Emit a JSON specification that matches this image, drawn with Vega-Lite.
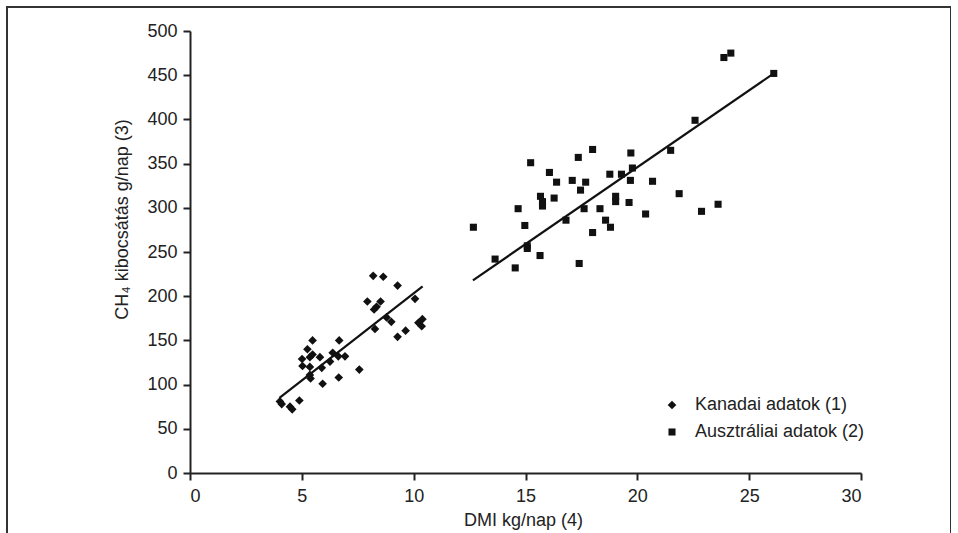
{
  "$schema": "https://vega.github.io/schema/vega-lite/v6.json",
  "autosize": {"type": "none"},
  "padding": {"left": 7, "top": 7, "right": 0, "bottom": 0},
  "width": 944,
  "height": 536,
  "background": "white",
  "config": {
    "view": {"stroke": "#333", "strokeWidth": 2},
    "font": "Liberation Sans",
    "axis": {
      "grid": false,
      "domainColor": "#222",
      "domainWidth": 2,
      "tickColor": "#222",
      "tickWidth": 2,
      "tickSize": 7,
      "labelFont": "Liberation Sans",
      "labelFontSize": 18,
      "labelColor": "#222",
      "titleFont": "Liberation Sans",
      "titleFontSize": 18,
      "titleFontWeight": "normal",
      "titleColor": "#222"
    },
    "legend": {
      "labelFont": "Liberation Sans",
      "labelFontSize": 18,
      "labelColor": "#222",
      "labelLimit": 0
    }
  },
  "datasets": {
    "points": [
      {"dmi": 8.19, "ch4": 223, "group": "Kanadai adatok (1)"},
      {"dmi": 8.64, "ch4": 222, "group": "Kanadai adatok (1)"},
      {"dmi": 9.28, "ch4": 212, "group": "Kanadai adatok (1)"},
      {"dmi": 10.06, "ch4": 197, "group": "Kanadai adatok (1)"},
      {"dmi": 7.93, "ch4": 194, "group": "Kanadai adatok (1)"},
      {"dmi": 8.52, "ch4": 194, "group": "Kanadai adatok (1)"},
      {"dmi": 8.34, "ch4": 188, "group": "Kanadai adatok (1)"},
      {"dmi": 8.23, "ch4": 185, "group": "Kanadai adatok (1)"},
      {"dmi": 8.79, "ch4": 176, "group": "Kanadai adatok (1)"},
      {"dmi": 9.0, "ch4": 171, "group": "Kanadai adatok (1)"},
      {"dmi": 8.27, "ch4": 163, "group": "Kanadai adatok (1)"},
      {"dmi": 10.39, "ch4": 174, "group": "Kanadai adatok (1)"},
      {"dmi": 10.21, "ch4": 170, "group": "Kanadai adatok (1)"},
      {"dmi": 10.36, "ch4": 166, "group": "Kanadai adatok (1)"},
      {"dmi": 9.64, "ch4": 161, "group": "Kanadai adatok (1)"},
      {"dmi": 9.28, "ch4": 154, "group": "Kanadai adatok (1)"},
      {"dmi": 5.48, "ch4": 150, "group": "Kanadai adatok (1)"},
      {"dmi": 6.67, "ch4": 150, "group": "Kanadai adatok (1)"},
      {"dmi": 5.25, "ch4": 140, "group": "Kanadai adatok (1)"},
      {"dmi": 5.01, "ch4": 129, "group": "Kanadai adatok (1)"},
      {"dmi": 5.36, "ch4": 131, "group": "Kanadai adatok (1)"},
      {"dmi": 5.48, "ch4": 134, "group": "Kanadai adatok (1)"},
      {"dmi": 5.81, "ch4": 131, "group": "Kanadai adatok (1)"},
      {"dmi": 5.03, "ch4": 121, "group": "Kanadai adatok (1)"},
      {"dmi": 5.36, "ch4": 120, "group": "Kanadai adatok (1)"},
      {"dmi": 5.89, "ch4": 119, "group": "Kanadai adatok (1)"},
      {"dmi": 6.26, "ch4": 126, "group": "Kanadai adatok (1)"},
      {"dmi": 6.38, "ch4": 136, "group": "Kanadai adatok (1)"},
      {"dmi": 6.63, "ch4": 132, "group": "Kanadai adatok (1)"},
      {"dmi": 6.93, "ch4": 132, "group": "Kanadai adatok (1)"},
      {"dmi": 5.36, "ch4": 111, "group": "Kanadai adatok (1)"},
      {"dmi": 5.39, "ch4": 107, "group": "Kanadai adatok (1)"},
      {"dmi": 7.57, "ch4": 117, "group": "Kanadai adatok (1)"},
      {"dmi": 6.65, "ch4": 108, "group": "Kanadai adatok (1)"},
      {"dmi": 5.93, "ch4": 101, "group": "Kanadai adatok (1)"},
      {"dmi": 4.02, "ch4": 81, "group": "Kanadai adatok (1)"},
      {"dmi": 4.1, "ch4": 78, "group": "Kanadai adatok (1)"},
      {"dmi": 4.89, "ch4": 82, "group": "Kanadai adatok (1)"},
      {"dmi": 4.47, "ch4": 75, "group": "Kanadai adatok (1)"},
      {"dmi": 4.57, "ch4": 72, "group": "Kanadai adatok (1)"},
      {"dmi": 12.67, "ch4": 278, "group": "Ausztráliai adatok (2)"},
      {"dmi": 15.23, "ch4": 351, "group": "Ausztráliai adatok (2)"},
      {"dmi": 16.07, "ch4": 340, "group": "Ausztráliai adatok (2)"},
      {"dmi": 16.39, "ch4": 329, "group": "Ausztráliai adatok (2)"},
      {"dmi": 17.36, "ch4": 357, "group": "Ausztráliai adatok (2)"},
      {"dmi": 18.0, "ch4": 366, "group": "Ausztráliai adatok (2)"},
      {"dmi": 19.71, "ch4": 362, "group": "Ausztráliai adatok (2)"},
      {"dmi": 17.09, "ch4": 331, "group": "Ausztráliai adatok (2)"},
      {"dmi": 17.69, "ch4": 329, "group": "Ausztráliai adatok (2)"},
      {"dmi": 17.46, "ch4": 320, "group": "Ausztráliai adatok (2)"},
      {"dmi": 18.77, "ch4": 338, "group": "Ausztráliai adatok (2)"},
      {"dmi": 19.29, "ch4": 338, "group": "Ausztráliai adatok (2)"},
      {"dmi": 19.78, "ch4": 345, "group": "Ausztráliai adatok (2)"},
      {"dmi": 19.69, "ch4": 331, "group": "Ausztráliai adatok (2)"},
      {"dmi": 15.67, "ch4": 313, "group": "Ausztráliai adatok (2)"},
      {"dmi": 15.76, "ch4": 307, "group": "Ausztráliai adatok (2)"},
      {"dmi": 15.76, "ch4": 302, "group": "Ausztráliai adatok (2)"},
      {"dmi": 16.28, "ch4": 311, "group": "Ausztráliai adatok (2)"},
      {"dmi": 14.67, "ch4": 299, "group": "Ausztráliai adatok (2)"},
      {"dmi": 19.03, "ch4": 313, "group": "Ausztráliai adatok (2)"},
      {"dmi": 19.03, "ch4": 307, "group": "Ausztráliai adatok (2)"},
      {"dmi": 19.63, "ch4": 306, "group": "Ausztráliai adatok (2)"},
      {"dmi": 17.62, "ch4": 299, "group": "Ausztráliai adatok (2)"},
      {"dmi": 18.33, "ch4": 299, "group": "Ausztráliai adatok (2)"},
      {"dmi": 20.37, "ch4": 293, "group": "Ausztráliai adatok (2)"},
      {"dmi": 14.97, "ch4": 280, "group": "Ausztráliai adatok (2)"},
      {"dmi": 16.81, "ch4": 286, "group": "Ausztráliai adatok (2)"},
      {"dmi": 18.58, "ch4": 286, "group": "Ausztráliai adatok (2)"},
      {"dmi": 18.8, "ch4": 278, "group": "Ausztráliai adatok (2)"},
      {"dmi": 18.0, "ch4": 272, "group": "Ausztráliai adatok (2)"},
      {"dmi": 15.08, "ch4": 257, "group": "Ausztráliai adatok (2)"},
      {"dmi": 15.08, "ch4": 254, "group": "Ausztráliai adatok (2)"},
      {"dmi": 13.64, "ch4": 242, "group": "Ausztráliai adatok (2)"},
      {"dmi": 15.65, "ch4": 246, "group": "Ausztráliai adatok (2)"},
      {"dmi": 14.54, "ch4": 232, "group": "Ausztráliai adatok (2)"},
      {"dmi": 17.4, "ch4": 237, "group": "Ausztráliai adatok (2)"},
      {"dmi": 23.87, "ch4": 470, "group": "Ausztráliai adatok (2)"},
      {"dmi": 24.18, "ch4": 475, "group": "Ausztráliai adatok (2)"},
      {"dmi": 26.1, "ch4": 452, "group": "Ausztráliai adatok (2)"},
      {"dmi": 22.58, "ch4": 399, "group": "Ausztráliai adatok (2)"},
      {"dmi": 21.49, "ch4": 365, "group": "Ausztráliai adatok (2)"},
      {"dmi": 20.68, "ch4": 330, "group": "Ausztráliai adatok (2)"},
      {"dmi": 21.87, "ch4": 316, "group": "Ausztráliai adatok (2)"},
      {"dmi": 22.87, "ch4": 296, "group": "Ausztráliai adatok (2)"},
      {"dmi": 23.61, "ch4": 304, "group": "Ausztráliai adatok (2)"}
    ],
    "fits": [
      {"dmi": 4.0, "ch4": 85, "group": "Kanadai"},
      {"dmi": 10.4, "ch4": 211, "group": "Kanadai"},
      {"dmi": 12.65, "ch4": 218, "group": "Ausztráliai"},
      {"dmi": 26.1, "ch4": 452, "group": "Ausztráliai"}
    ]
  },
  "encoding": {
    "x": {
      "field": "dmi",
      "type": "quantitative",
      "scale": {"domain": [0, 30], "range": [183, 854], "nice": false, "zero": false},
      "axis": {
        "values": [0, 5, 10, 15, 20, 25, 30],
        "offset": -70,
        "labelPadding": 7,
        "title": "DMI kg/nap (4)",
        "titleX": 516,
        "titleY": 47,
        "titleAlign": "center",
        "titleBaseline": "middle",
        "titleAnchor": null
      }
    },
    "y": {
      "field": "ch4",
      "type": "quantitative",
      "scale": {"domain": [0, 500], "range": [466, 24], "nice": false, "zero": false},
      "axis": {
        "values": [0, 50, 100, 150, 200, 250, 300, 350, 400, 450, 500],
        "offset": -183,
        "labelPadding": 6,
        "title": "CH₄ kibocsátás g/nap (3)",
        "titleX": -68,
        "titleY": 212,
        "titleAngle": -90,
        "titleAlign": "center",
        "titleBaseline": "middle"
      }
    }
  },
  "layer": [
    {
      "data": {"name": "fits"},
      "mark": {"type": "line", "color": "#111", "strokeWidth": 2.2},
      "encoding": {"detail": {"field": "group"}}
    },
    {
      "data": {"name": "points"},
      "mark": {"type": "point", "filled": true, "color": "#111", "opacity": 1},
      "encoding": {
        "shape": {
          "field": "group",
          "type": "nominal",
          "scale": {"domain": ["Kanadai adatok (1)", "Ausztráliai adatok (2)"], "range": ["diamond", "square"]},
          "legend": {
            "title": null,
            "orient": "none",
            "legendX": 656,
            "legendY": 389,
            "padding": 0,
            "rowPadding": 9,
            "labelOffset": 14,
            "symbolFillColor": "#111",
            "symbolStrokeColor": "#111"
          }
        },
        "size": {
          "field": "group",
          "type": "nominal",
          "scale": {"domain": ["Kanadai adatok (1)", "Ausztráliai adatok (2)"], "range": [75, 50]},
          "legend": {
            "title": null,
            "orient": "none",
            "legendX": 656,
            "legendY": 389,
            "padding": 0,
            "rowPadding": 9,
            "labelOffset": 14,
            "symbolFillColor": "#111",
            "symbolStrokeColor": "#111"
          }
        }
      }
    }
  ]
}
